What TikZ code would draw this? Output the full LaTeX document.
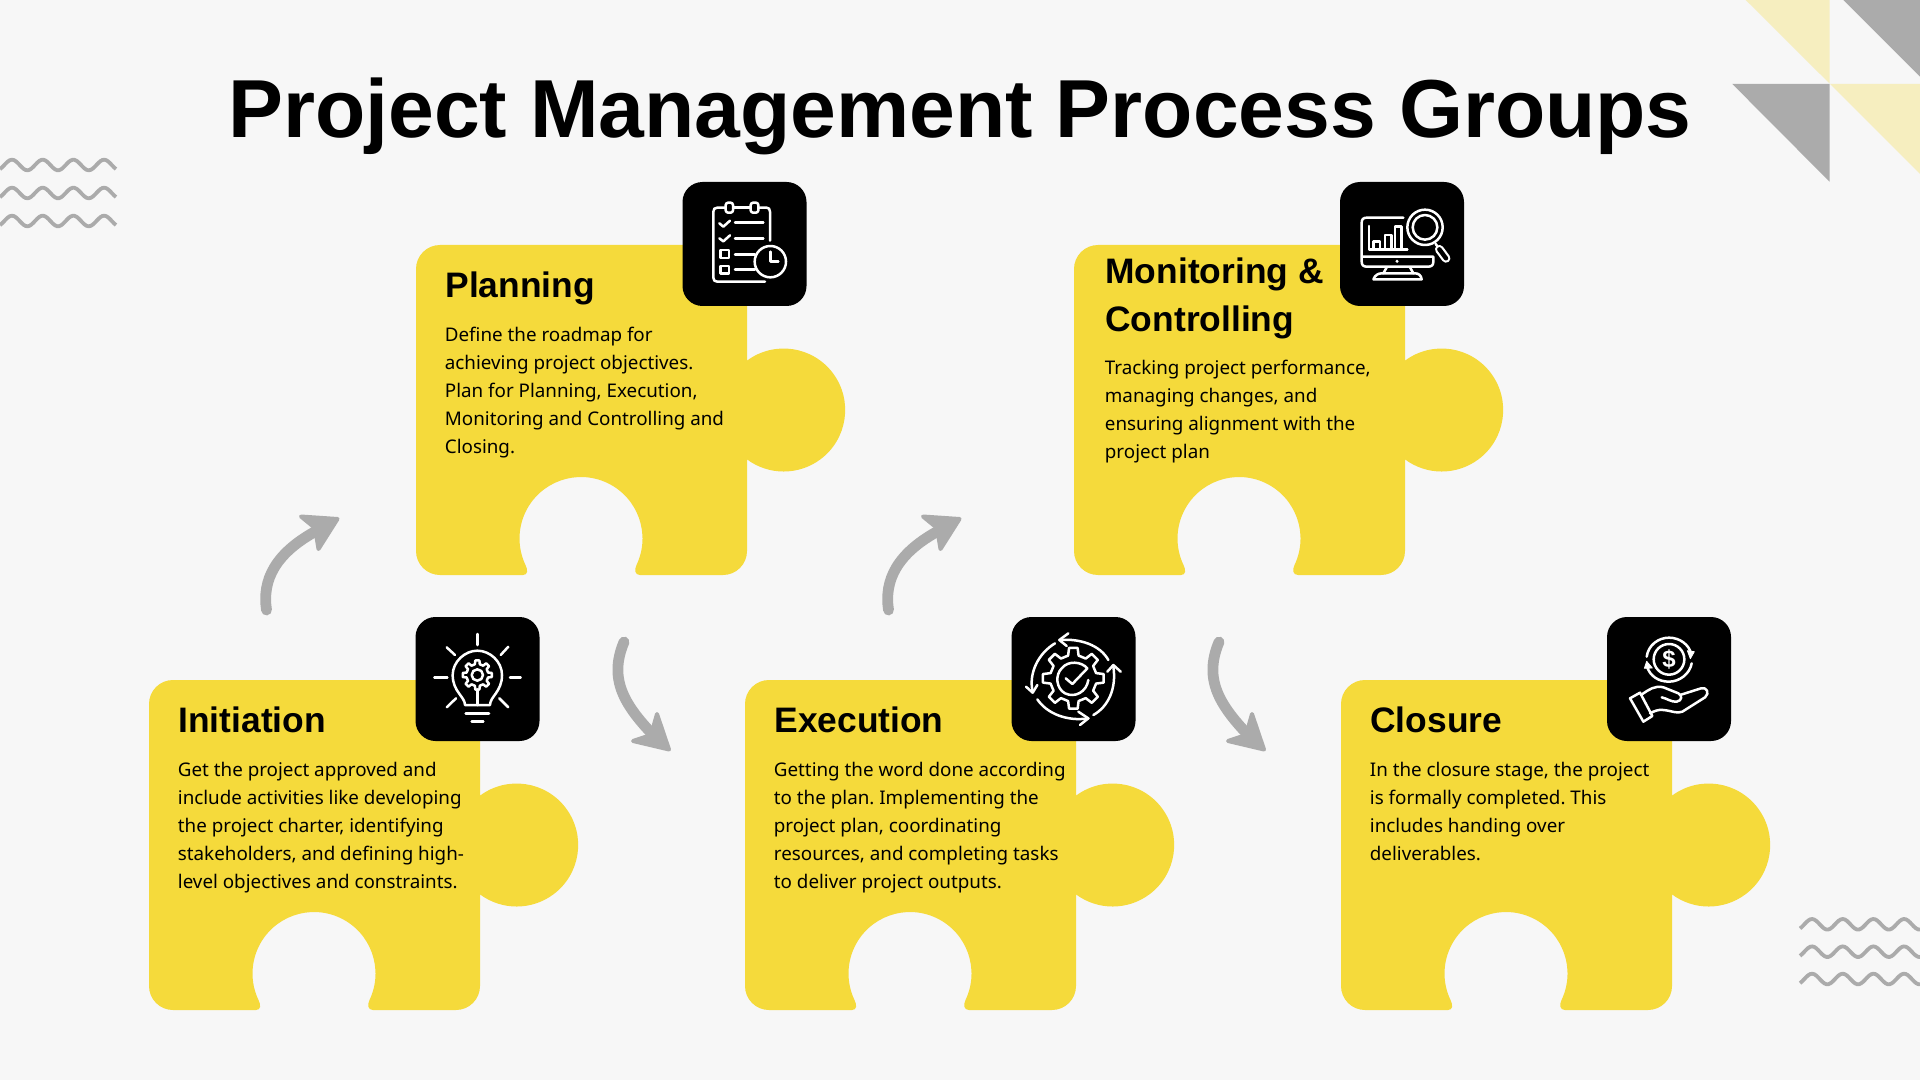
\documentclass[tikz,border=0pt]{standalone}
\usepackage{fontspec}
\setmainfont{Noto Sans}
\newfontfamily\titlefont{Liberation Sans}
\definecolor{bgc}{HTML}{F7F7F7}
\definecolor{yel}{HTML}{F5DA3B}
\definecolor{pale}{HTML}{F6EEBF}
\definecolor{gry}{HTML}{ABABAB}
\tikzset{
  piece/.style={fill=yel},
  iconbox/.style={fill=black,rounded corners=10pt},
  ico/.style={draw=white,line width=1.25pt,line cap=round,line join=round},
  icof/.style={fill=white,draw=white,line width=0.4pt,line join=round},
  zoomed/.style={x=0.166667pt,y=-0.166667pt},
  wave/.style={draw=gry,line width=1.9pt},
  arrowbody/.style={draw=gry,line width=5.4pt,line cap=round},
  arrowhead/.style={fill=gry,draw=gry,line width=2pt,line join=round},
  headtext/.style={anchor=west,inner sep=0,align=left,font=\titlefont\fontsize{17.7}{24}\selectfont\bfseries},
  bodytext/.style={anchor=west,inner sep=0,align=left,font=\fontsize{9.4}{14}\selectfont\frenchspacing},
}
\newcommand{\puzzlepiece}[2]{%
  \fill[piece,shift={(#1,#2)}] (24,0) -- (307,0) arc[start angle=-90,end angle=0,radius=24]
    -- (331,115.65) arc[start angle=-126.6,end angle=126.6,radius=61.5]
    -- (331,306) arc[start angle=0,end angle=90,radius=24]
    -- (224,330) .. controls (219,330) and (218,325) .. (220.5,320)
    arc[start angle=25.5,end angle=-205.5,radius=61.5]
    .. controls (112,325) and (112,330) .. (107,330)
    -- (24,330) arc[start angle=90,end angle=180,radius=24]
    -- (0,24) arc[start angle=180,end angle=270,radius=24] -- cycle;}
\newcommand{\boxat}[2]{\fill[iconbox] (#1,#2) rectangle ++(124,124);}
\newcommand{\gearshape}[6]{% cx cy r1 r2 halfIn halfOut  (8 teeth)
  \draw[ico,shift={(#1,#2)}] (-#5:#3)
    \foreach \a in {0,45,...,315}{ -- ({\a-#5}:#3) -- ({\a-#6}:#4) -- ({\a+#6}:#4) -- ({\a+#5}:#3) } -- cycle;}
\newcommand{\wavy}[3]{% x offset, y, length
  \draw[wave] plot[smooth,samples=60,domain=0:#3] ({#1+\x},{#2-5.3*cos((\x-12)/30.7*360)});}
\newcommand{\arrowUp}[1]{%
  \begin{scope}[shift={(#1,0)}]
  \coordinate (us#1) at (266.5,610);
  \coordinate (ue#1) at (318,530);
  \draw[arrowbody] (us#1) .. controls (262,580) and (275,553) .. (ue#1);
  \fill[arrowhead] (337.5,519) -- (301,516.5) -- (315,528) -- (318.5,549) -- cycle;
  \end{scope}}
\newcommand{\arrowDn}[1]{%
  \begin{scope}[shift={(#1,0)}]
  \coordinate (ds#1) at (624,642);
  \coordinate (de#1) at (656,738);
  \draw[arrowbody] (ds#1) .. controls (608,680) and (625,706) .. (de#1);
  \fill[arrowhead] (669,749.5) -- (657,714) -- (651,735) -- (633,741) -- cycle;
  \end{scope}}
\begin{document}
\begin{tikzpicture}[x=0.5pt,y=-0.5pt]
\fill[bgc] (0,0) rectangle (1920,1080);
\useasboundingbox (0,0) rectangle (1920,1080);
% corner triangles
\fill[pale] (1745.7,0) -- (1829.5,0) -- (1829.5,83.5) -- cycle;
\fill[gry] (1843.3,0) -- (1920,0) -- (1920,76.7) -- cycle;
\fill[gry] (1732.3,84) -- (1829.5,84) -- (1829.5,181.7) -- cycle;
\fill[pale] (1830,84) -- (1920,84) -- (1920,174) -- cycle;
% waves
\wavy{0}{165}{116}\wavy{0}{193}{116}\wavy{0}{221}{116}
\wavy{1800}{924.3}{120}\wavy{1800}{951.7}{120}\wavy{1800}{979}{120}
% title
\node[inner sep=0,anchor=base,font=\titlefont\fontsize{41.15}{42}\selectfont\bfseries] (title) at (960,137.5) {Project Management Process Groups};
% pieces
\puzzlepiece{149}{680}
\puzzlepiece{745}{680}
\puzzlepiece{1341}{680}
\puzzlepiece{416}{245}
\puzzlepiece{1074}{245}
% arrows
\arrowUp{0}\arrowUp{622}
\arrowDn{0}\arrowDn{595}
% icon boxes
\boxat{682.5}{182}
\boxat{1340}{182}
\boxat{415.5}{617}
\boxat{1011.5}{617}
\boxat{1607}{617}
% texts
\node[headtext] (h1) at (445,288) {Planning};
\node[bodytext] (b1) at (444.5,393) {Define the roadmap for\\achieving project objectives.\\Plan for Planning, Execution,\\Monitoring and Controlling and\\Closing.};
\node[headtext] (h2) at (1105,298) {Monitoring \&\\Controlling};
\node[bodytext] (b2) at (1104.5,412) {Tracking project performance,\\managing changes, and\\ensuring alignment with the\\project plan};
\node[headtext] (h3) at (178,720) {Initiation};
\node[bodytext] (b3) at (177.5,827.5) {Get the project approved and\\include activities like developing\\the project charter, identifying\\stakeholders, and defining high-\\level objectives and constraints.};
\node[headtext] (h4) at (774,720) {Execution};
\node[bodytext] (b4) at (773.5,827.5) {Getting the word done according\\to the plan. Implementing the\\project plan, coordinating\\resources, and completing tasks\\to deliver project outputs.};
\node[headtext] (h5) at (1370,720) {Closure};
\node[bodytext] (b5) at (1369.5,811) {In the closure stage, the project\\is formally completed. This\\includes handing over\\deliverables.};
% clipboard icon
\begin{scope}[shift={(660,170)},zoomed]
\draw[ico] (330,212) -- (330,125) .. controls (330,117) and (326,113) .. (320,113) -- (297,113);
\draw[ico] (272,113) -- (220,113);
\draw[ico] (197,113) -- (172,113) .. controls (164,113) and (160,117) .. (160,125) -- (160,323) .. controls (160,331) and (164,335) .. (172,335) -- (315,335);
\draw[ico,rounded corners=1.2pt] (197,98) rectangle (219,128);
\draw[ico,rounded corners=1.2pt] (272,98) rectangle (295,128);
\draw[ico] (178,160) -- (190,170) -- (210,152);
\draw[ico] (225,158) -- (310,158);
\draw[ico] (178,205) -- (190,214) -- (210,196);
\draw[ico] (225,205) -- (310,205);
\draw[ico] (182,240) rectangle (207,264);
\draw[ico] (182,288) rectangle (207,310);
\draw[ico] (225,253) -- (285,253);
\draw[ico] (225,298) -- (285,298);
\draw[ico] (331,275) circle[radius=47];
\draw[ico] (331,245) -- (331,275) -- (355,275);
\end{scope}
% monitor icon
\begin{scope}[shift={(1320,170)},zoomed]
\draw[ico] (250,143) -- (140,143) .. controls (130,143) and (125,148) .. (125,158) -- (125,275) .. controls (125,285) and (130,290) .. (140,290) -- (325,290) .. controls (335,290) and (340,285) .. (340,275) -- (340,260) -- (125,260);
\fill[white] (231,274) circle[radius=5];
\draw[ico] (147,168) -- (147,238) -- (262,238);
\draw[ico] (160,238) -- (160,215) -- (180,215) -- (180,238);
\draw[ico] (195,238) -- (195,195) -- (215,195) -- (215,238);
\draw[ico] (225,238) -- (225,170) -- (245,170) -- (245,238);
\draw[ico] (200,292) -- (190,310);
\draw[ico] (270,292) -- (280,310);
\draw[ico] (160,328) .. controls (165,315) and (175,310) .. (185,310) -- (285,310) .. controls (295,310) and (303,315) .. (305,328) -- cycle;
\draw[ico] (315,172) circle[radius=53];
\draw[ico] (315,172) circle[radius=37];
\draw[ico] (347,222) -- (352,229);
\draw[white,line width=4.4pt,line cap=round] (358,238) -- (378,265);
\draw[black,line width=2.2pt,line cap=round] (358,238) -- (378,265);
\end{scope}
% bulb icon
\begin{scope}[shift={(400,610)},zoomed]
\draw[ico] (232,72) -- (232,105);
\draw[ico] (140,112) -- (165,135);
\draw[ico] (325,110) -- (302,135);
\draw[ico] (103,202) -- (142,202);
\draw[ico] (330,202) -- (362,202);
\draw[ico] (140,292) -- (168,265);
\draw[ico] (325,292) -- (298,265);
\draw[ico] (195,285) .. controls (195,260) and (158,245) .. (158,195) .. controls (158,155) and (195,122) .. (232,122) .. controls (270,122) and (306,155) .. (306,195) .. controls (306,245) and (270,260) .. (270,285) -- cycle;
\gearshape{232}{195}{33}{44}{13}{8}
\draw[ico] (232,195) circle[radius=17];
\draw[ico] (232,238) -- (232,285);
\draw[ico] (197,310) -- (267,310);
\draw[ico] (215,335) -- (250,335);
\end{scope}
% gear icon
\begin{scope}[shift={(1000,610)},zoomed]
\gearshape{220}{205}{70}{92}{13}{8}
\draw[ico] (262,175) .. controls (245,155) and (205,150) .. (185,175) .. controls (165,195) and (168,235) .. (195,250) .. controls (225,265) and (260,245) .. (265,210);
\draw[ico] (197,205) -- (217,222) -- (262,175);
\draw[ico] (325,150) .. controls (300,105) and (240,85) .. (180,90);
\draw[ico] (205,70) -- (178,90) -- (200,108);
\draw[ico] (280,315) .. controls (325,290) and (350,235) .. (340,170);
\draw[ico] (322,185) -- (340,165) -- (362,185);
\draw[ico] (112,268) .. controls (140,310) and (200,335) .. (265,325);
\draw[ico] (235,305) -- (265,325) -- (240,345);
\draw[ico] (165,100) .. controls (115,130) and (85,190) .. (98,245);
\draw[ico] (78,230) -- (98,248) -- (112,225);
\end{scope}
% money icon
\begin{scope}[shift={(1595,610)},zoomed]
\draw[ico] (155,140) .. controls (160,105) and (190,83) .. (222,83) .. controls (255,83) and (282,105) .. (288,130);
\draw[ico] (290,160) .. controls (285,190) and (255,215) .. (222,215) .. controls (190,215) and (165,198) .. (156,170);
\fill[icof] (277,122) -- (298,125) -- (286,146) -- cycle;
\fill[icof] (148,175) -- (155,154) -- (172,174) -- cycle;
\draw[ico] (222,148) circle[radius=46];
\node[inner sep=0,text=white,font=\titlefont\fontsize{12}{12}\selectfont\bfseries] (dollar) at (222,149) {\$};
\draw[ico] (105,265) -- (135,248) -- (172,318) -- (145,335) -- cycle;
\draw[ico] (142,252) .. controls (160,240) and (180,225) .. (205,232) -- (250,250) .. controls (262,256) and (262,272) .. (245,275) .. controls (230,277) and (215,265) .. (200,262);
\draw[ico] (255,255) -- (318,235) .. controls (335,230) and (345,250) .. (330,262) -- (262,305) .. controls (245,312) and (230,302) .. (205,300) .. controls (190,298) and (178,303) .. (165,310);
\end{scope}
\end{tikzpicture}
\end{document}
